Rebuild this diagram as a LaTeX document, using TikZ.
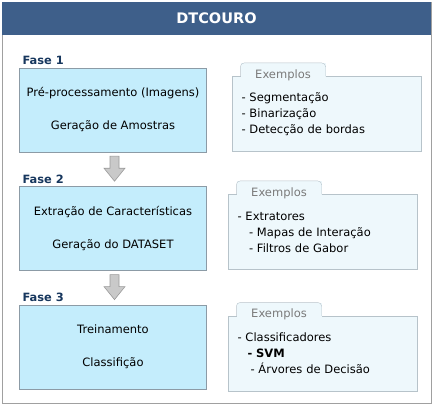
\documentclass[tikz,border=0pt]{standalone}
\usepackage{fontspec}
\setmainfont{DejaVu Sans}
\usetikzlibrary{calc, positioning}

\definecolor{titleblue}{HTML}{3E5F8A}
\definecolor{fasetext}{HTML}{17375E}
\definecolor{phasefill}{HTML}{C4EDFC}
\definecolor{phaseline}{HTML}{8C9BA6}
\definecolor{exfill}{HTML}{EEF8FC}
\definecolor{exline}{HTML}{B7C3CA}
\definecolor{tabtext}{HTML}{7A7A7A}
\definecolor{arrowfill}{HTML}{C9C9C9}
\definecolor{arrowline}{HTML}{9A9A9A}
\definecolor{frameline}{HTML}{A0A0A0}

\newcommand{\phasearrow}[2]{%
  \filldraw[arrowbody] ($(#1.south)+(-3,4)$) -- ($(#1.south)+(6,4)$) -- ($(#1.south)+(6,16)$)
    -- ($(#1.south)+(12,16)$) -- ($(#2.north)+(1.5,-5)$) -- ($(#1.south)+(-9,16)$)
    -- ($(#1.south)+(-3,16)$) -- cycle;}

\newcommand{\extab}[2]{%
  \node (#1) [tab, anchor=south west] at ([xshift=8pt, yshift=-7pt]#2.north west) {Exemplos};
  \draw[exline, rounded corners=4pt] (#1.north west |- #2.north) -- (#1.north west)
    -- (#1.north east) -- (#1.north east |- #2.north);}

\begin{document}
\begin{tikzpicture}[
  x=1pt, y=-1pt,
  node distance=34pt,
  every node/.style={font=\fontsize{11.5}{16}\selectfont},
  phase/.style={draw=phaseline, fill=phasefill, align=center, minimum width=187pt, minimum height=84pt},
  example/.style={draw=exline, fill=exfill, align=left, text width=171pt, inner xsep=9pt, minimum width=189pt, minimum height=75pt},
  tab/.style={fill=exfill, text=tabtext, minimum width=85pt, minimum height=20pt, inner sep=0pt, text height=10pt, text depth=0pt},
  fase/.style={text=fasetext, font=\fontsize{11.4}{14}\selectfont\bfseries, inner sep=0pt, anchor=base west},
  title/.style={fill=titleblue, text=white, font=\fontsize{14.5}{17}\selectfont\bfseries, minimum width=429pt, minimum height=33pt, inner sep=0pt},
  arrowbody/.style={fill=arrowfill, draw=arrowline, line width=0.6pt}
]

\fill[white] (0,0) rectangle (433,406);
\useasboundingbox (0,0) rectangle (433,406);
\draw[frameline] (2,2) rectangle (431,403);
\node (title) [title] at (216.5,18.5) {DTCOURO};

\node (p1) [phase] at (113,110) {Pré-processamento (Imagens)\\[17pt]Geração de Amostras};
\node (p2) [phase, below=of p1] {Extração de Características\\[17pt]Geração do DATASET};
\node (p3) [phase, below=of p2] {Treinamento\\[17pt]Classifição};

\node (f1) [fase] at ([xshift=3pt, yshift=3pt]p1.north west) {Fase 1};
\node (f2) [fase] at ([xshift=3pt, yshift=3pt]p2.north west) {Fase 2};
\node (f3) [fase] at ([xshift=3pt, yshift=3pt]p3.north west) {Fase 3};

\phasearrow{p1}{p2}
\phasearrow{p2}{p3}

\node (ex1) [example] at (327,114) {- Segmentação\\- Binarização\\- Detecção de bordas};
\node (ex2) [example] at (323,232) {- Extratores\\\hspace*{11.5pt}- Mapas de Interação\\\hspace*{11.5pt}- Filtros de Gabor};
\node (ex3) [example] at (323,353.5) {- Classificadores\\\hspace*{10pt}\textbf{- SVM}\\\hspace*{13pt}- Árvores de Decisão};

\extab{t1}{ex1}
\extab{t2}{ex2}
\extab{t3}{ex3}

\end{tikzpicture}
\end{document}
